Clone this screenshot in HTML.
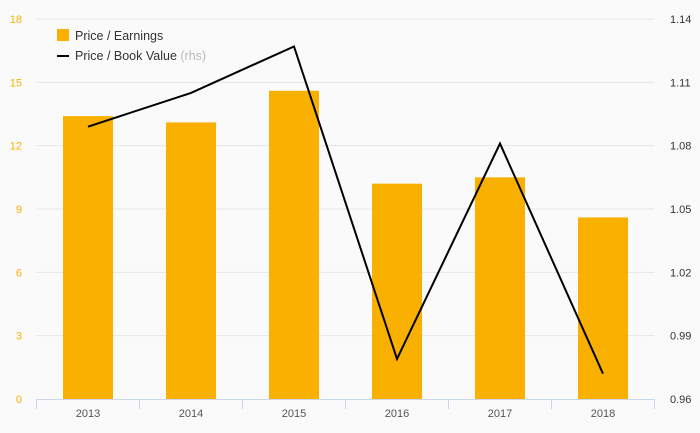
<!DOCTYPE html>
<html><head><meta charset="utf-8"><style>
body{margin:0;background:#fafafa;}
svg{display:block;font-family:"Liberation Sans",sans-serif;}
</style></head><body>
<svg id="chart" width="700" height="433">
<rect width="700" height="433" fill="#fafafa"/>
<g id="grid"></g><g id="bars"></g><g id="line"></g><g id="axes"></g>
<g>
<rect x="57" y="29" width="12" height="12" fill="#f9b000"/>
<text x="75" y="40" font-size="12.5" fill="#333">Price / Earnings</text>
<line x1="57" y1="56" x2="69" y2="56" stroke="#000" stroke-width="2"/>
<text x="75" y="60" font-size="12.5" fill="#333">Price / Book Value <tspan fill="#bbb">(rhs)</tspan></text>
</g>
</svg>
<script>
const categories=["2013","2014","2015","2016","2017","2018"];
const peValues=[13.4,13.1,14.6,10.2,10.5,8.6];
const pbValues=[1.089,1.105,1.127,0.979,1.081,0.972];
const leftTicks=[0,3,6,9,12,15,18];
const rightTicks=[0.96,0.99,1.02,1.05,1.08,1.11,1.14];
const NS="http://www.w3.org/2000/svg";
const x0=36.5,band=103,yTop=19,yBot=399;
const yL=v=>yBot-(v-0)/18*(yBot-yTop);
const yR=v=>yBot-(v-0.96)/0.18*(yBot-yTop);
const xC=i=>x0+band*(i+0.5);
function mk(t,a,p){const e=document.createElementNS(NS,t);for(const k in a)e.setAttribute(k,a[k]);p.appendChild(e);return e;}
const grid=document.getElementById('grid'),axes=document.getElementById('axes'),bars=document.getElementById('bars'),line=document.getElementById('line');
leftTicks.forEach((v,i)=>{
 const y=yL(v);
 if(i>0){const g=mk('line',{x1:x0,x2:x0+band*6,y1:y,y2:y,stroke:'#e6e6e6'},grid);
 
 }
 const t=mk('text',{x:22,y:y+4,'font-size':11,fill:'#f9b000','text-anchor':'end'},axes);t.textContent=v;
 
 
});
rightTicks.forEach(v=>{
 const t=mk('text',{x:670,y:yR(v)+4,'font-size':11,fill:'#333'},axes);t.textContent=v.toFixed(2);
 
 
});
const ax=mk('line',{x1:x0,x2:x0+band*6,y1:yBot+0.5,y2:yBot+0.5,stroke:'#ccd6eb'},axes);


for(let i=0;i<=6;i++){const tk=mk('line',{x1:x0+band*i,x2:x0+band*i,y1:yBot,y2:yBot+10,stroke:'#ccd6eb'},axes);
 
 }
categories.forEach((c,i)=>{
 const t=mk('text',{x:xC(i),y:417,'font-size':11,fill:'#555','text-anchor':'middle'},axes);t.textContent=c;
 
 
 const b=mk('rect',{x:xC(i)-25,y:yL(peValues[i]),width:50,height:yBot-yL(peValues[i]),fill:'#f9b000'},bars);
 
 
});
const p=mk('polyline',{points:pbValues.map((v,i)=>xC(i)+','+yR(v)).join(' '),fill:'none',stroke:'#000','stroke-width':2,'stroke-linejoin':'miter'},line);


</script>
</body></html>
